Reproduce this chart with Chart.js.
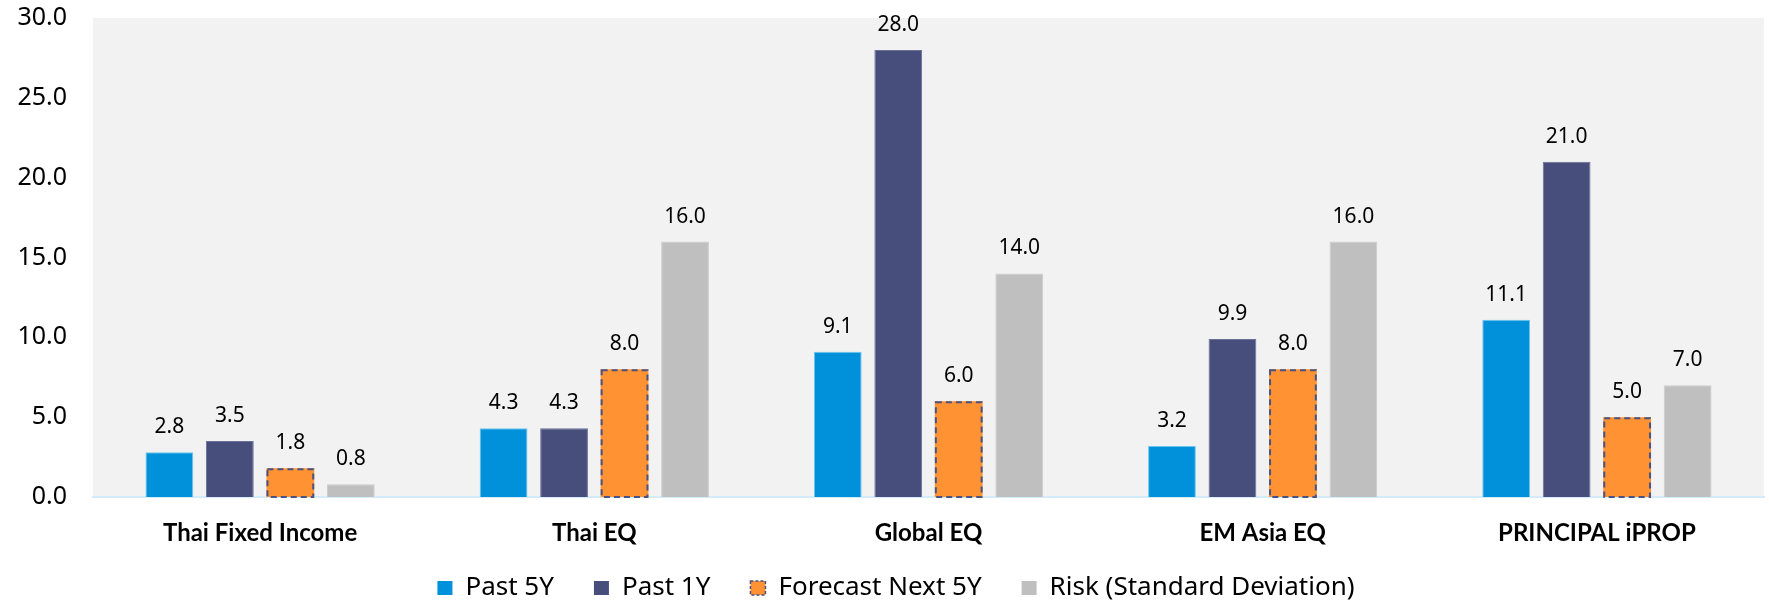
<!DOCTYPE html>
<html lang="en">
<head>
    <meta charset="UTF-8">
    <title>Return vs Risk</title>
    <script src="https://cdn.jsdelivr.net/npm/chart.js"></script>
    <style>
        body { margin: 0; background: #fff; }
        #wrap { width: 1769px; height: 603px; position: relative; }
    </style>
</head>
<body>
    <div id="wrap"><canvas id="returnChart"></canvas></div>
    <script>
        // data
        const categories = ['Thai Fixed Income', 'Thai EQ', 'Global EQ', 'EM Asia EQ', 'PRINCIPAL iPROP'];
        const past5Y = [2.8, 4.3, 9.1, 3.2, 11.1];
        const past1Y = [3.5, 4.3, 28.0, 9.9, 21.0];
        const forecastNext5Y = [1.8, 8.0, 6.0, 8.0, 5.0];
        const riskStdDev = [0.8, 16.0, 14.0, 16.0, 7.0];
        const seriesNames = ['Past 5Y', 'Past 1Y', 'Forecast Next 5Y', 'Risk (Standard Deviation)'];
        const yMin = 0, yMax = 30, yStep = 5;

        Chart.defaults.font.family = "'Noto Sans', sans-serif";
        Chart.defaults.color = '#000';

        // gray plot background
        const plotBackground = {
            id: 'plotBackground',
            beforeDraw(chart) {
                const { ctx, chartArea: a } = chart;
                ctx.save();
                ctx.fillStyle = '#f2f2f2';
                ctx.fillRect(a.left, a.top, a.right - a.left, a.bottom - a.top);
                ctx.restore();
            }
        };

        // put the legend row where it sits in the original (it overlaps the axis box)
        const legendNudge = {
            id: 'legendNudge',
            afterLayout(chart) {
                const lg = chart.legend;
                const pad = lg.options.labels.padding;
                const fs = lg.options.labels.font.size;
                lg.top = 588 - fs / 2 - pad;
                lg.bottom = chart.height;
                lg.height = lg.bottom - lg.top;
                lg.left += 14;
                lg.right += 14;
            }
        };

        // dashed outline for the forecast bars
        const dashedForecast = {
            id: 'dashedForecast',
            afterDatasetsDraw(chart) {
                const ctx = chart.ctx;
                const meta = chart.getDatasetMeta(2);
                ctx.save();
                ctx.strokeStyle = '#4a5282';
                ctx.lineWidth = 2;
                ctx.setLineDash([6, 4]);
                meta.data.forEach(bar => {
                    const p = bar.getProps(['x', 'y', 'base', 'width'], true);
                    ctx.strokeRect(p.x - p.width / 2 + 1, p.y + 1, p.width - 2, p.base - p.y - 1);
                });
                ctx.restore();
            }
        };

        // value labels above bars
        const valueLabels = {
            id: 'valueLabels',
            afterDatasetsDraw(chart) {
                const ctx = chart.ctx;
                ctx.save();
                ctx.font = "21px 'Noto Sans', sans-serif";
                ctx.fillStyle = '#000';
                ctx.textAlign = 'center';
                ctx.textBaseline = 'middle';
                chart.data.datasets.forEach((ds, i) => {
                    chart.getDatasetMeta(i).data.forEach((bar, j) => {
                        ctx.fillText(ds.data[j].toFixed(1), bar.x, bar.y - 25);
                    });
                });
                ctx.restore();
            }
        };

        const ctx = document.getElementById('returnChart').getContext('2d');
        new Chart(ctx, {
            type: 'bar',
            data: {
                labels: categories,
                datasets: [
                    { label: seriesNames[0], data: past5Y, backgroundColor: '#0091da', borderColor: '#6cc4f0', borderWidth: 1 },
                    { label: seriesNames[1], data: past1Y, backgroundColor: '#474e7c', borderColor: '#6b7299', borderWidth: 1 },
                    { label: seriesNames[2], data: forecastNext5Y, backgroundColor: '#ff9232', borderColor: '#4a5282', borderWidth: 0 },
                    { label: seriesNames[3], data: riskStdDev, backgroundColor: '#bfbfbf', borderColor: '#cccccc', borderWidth: 1 }
                ]
            },
            options: {
                responsive: true,
                maintainAspectRatio: false,
                animation: false,
                categoryPercentage: 0.724,
                barPercentage: 0.79,
                layout: { padding: { left: 0, top: 18, right: 5, bottom: 0 } },
                plugins: {
                    tooltip: { enabled: false },
                    legend: {
                        position: 'bottom',
                        maxHeight: 54,
                        labels: {
                            boxWidth: 15,
                            boxHeight: 14,
                            padding: 40,
                            font: { size: 26 },
                            color: '#000',
                            generateLabels(chart) {
                                const items = Chart.defaults.plugins.legend.labels.generateLabels(chart);
                                items.forEach(it => { it.lineWidth = 0; });
                                items[2].lineWidth = 1.5;
                                items[2].strokeStyle = '#4a5282';
                                items[2].lineDash = [3, 2];
                                return items;
                            }
                        }
                    }
                },
                scales: {
                    x: {
                        grid: { display: false, drawTicks: false },
                        border: { display: true, color: '#d4ecf9', width: 2 },
                        ticks: {
                            font: { family: "Lato, 'Noto Sans', sans-serif", size: 24, weight: 'bold' },
                            color: '#000',
                            padding: 22
                        },
                        afterFit(scale) { scale.height = 52; }
                    },
                    y: {
                        min: yMin,
                        max: yMax,
                        grid: { display: false, drawTicks: false },
                        border: { display: false },
                        ticks: {
                            stepSize: yStep,
                            font: { size: 25 },
                            color: '#000',
                            padding: 26,
                            callback: v => v.toFixed(1)
                        },
                        afterFit(scale) {
                            scale.width = 93;
                            scale.paddingTop = 0;
                            scale.paddingBottom = 0;
                        }
                    }
                }
            },
            plugins: [plotBackground, legendNudge, dashedForecast, valueLabels]
        });
    </script>
</body>
</html>
